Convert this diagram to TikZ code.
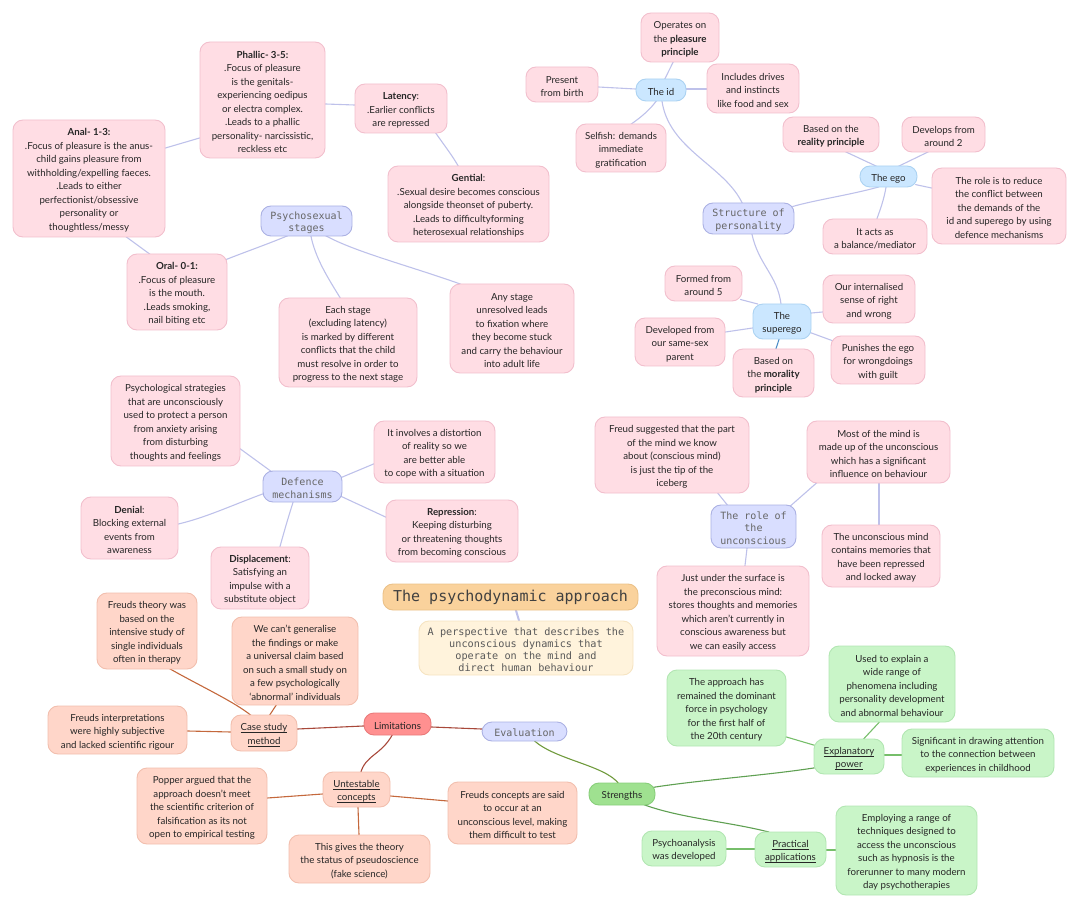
\documentclass[tikz,border=0pt]{standalone}
\usepackage{fontspec}
\setmainfont{Lato}
\newfontfamily\hdfont{DejaVu Sans Mono}
\definecolor{cPink}{HTML}{FFDDE4}\definecolor{cPinkD}{HTML}{F2BFCD}
\definecolor{cPeach}{HTML}{FFD6C9}\definecolor{cPeachD}{HTML}{F2BFAE}
\definecolor{cGreen}{HTML}{C9F5C8}\definecolor{cGreenD}{HTML}{B2E6B2}
\definecolor{cBlue}{HTML}{CBE7FF}\definecolor{cBlueD}{HTML}{ABD2F2}
\definecolor{cLavF}{HTML}{D9DEFF}\definecolor{cLavD}{HTML}{ABB1E3}
\definecolor{cTitle}{HTML}{FAD29C}\definecolor{cTitleD}{HTML}{EBC188}
\definecolor{cDesc}{HTML}{FFF3DC}\definecolor{cDescD}{HTML}{F6E4C2}
\definecolor{cLim}{HTML}{FF9090}\definecolor{cLimD}{HTML}{EA7A7A}
\definecolor{cStr}{HTML}{9FE190}\definecolor{cStrD}{HTML}{88CE7A}
\definecolor{cLink}{HTML}{BEC1EA}\definecolor{cRed}{HTML}{A8483A}
\definecolor{cOr}{HTML}{C4683C}\definecolor{cOlive}{HTML}{6F9A3C}
\definecolor{cGr}{HTML}{5FA052}\definecolor{cGrL}{HTML}{76BE6A}\definecolor{cBl}{HTML}{4F8FC8}
\pgfdeclarelayer{links}\pgfsetlayers{links,main}
\newcommand{\ulin}[1]{\setbox0\hbox{#1}\rlap{\rule[-1.6pt]{\wd0}{0.5pt}}\box0}
\newcommand{\topfix}{\rule{0pt}{11pt}}
\tikzset{
 bxbase/.style={rounded corners=10pt,line width=0.9pt,inner sep=0pt,align=center,text=black!85,font=\fontsize{9.7}{13.5}\selectfont},
 pinkbox/.style={bxbase,fill=cPink,draw=cPinkD},
 peachbox/.style={bxbase,fill=cPeach,draw=cPeachD},
 greenbox/.style={bxbase,fill=cGreen,draw=cGreenD},
 bluebox/.style={bxbase,fill=cBlue,draw=cBlueD},
 limbox/.style={bxbase,fill=cLim,draw=cLimD},
 strbox/.style={bxbase,fill=cStr,draw=cStrD},
 lavbox/.style={bxbase,fill=cLavF,draw=cLavD,text=black!60,font=\hdfont\fontsize{10}{12.2}\selectfont},
 titlebox/.style={bxbase,fill=cTitle,draw=cTitleD,text=black!75,font=\hdfont\fontsize{15}{18}\selectfont},
 descbox/.style={bxbase,fill=cDesc,draw=cDescD,text=black!65,font=\hdfont\fontsize{10.2}{11.9}\selectfont},
 lk/.style={line width=1.1pt,line cap=round,shorten >=-2pt,shorten <=-2pt},
 lav/.style={lk,draw=cLink},
 redlk/.style={lk,draw=cRed},
 orlk/.style={lk,draw=cOr},
 olivelk/.style={lk,draw=cOlive},
 grlk/.style={lk,draw=cGr},
 grllk/.style={lk,draw=cGrL},
 bllk/.style={lk,draw=cBl},
}
\newcommand{\bx}[7][pinkbox]{%
 \pgfmathsetmacro{\bxw}{#5-#3}\pgfmathsetmacro{\bxh}{#6-#4}%
 \pgfmathsetmacro{\bxx}{(#5+#3)/2}\pgfmathsetmacro{\bxy}{(#6+#4)/2}%
 \node[#1,minimum width=\bxw pt,minimum height=\bxh pt] (#2) at (\bxx,\bxy) {\topfix #7};}
\begin{document}
\begin{tikzpicture}[x=1pt,y=-1pt]
\useasboundingbox (0,0) rectangle (1080,909);
% title
\bx[titlebox]{title}{383}{584}{638}{610}{The psychodynamic approach}
\bx[descbox]{desc}{419}{621}{633}{675}{A perspective that describes the\\unconscious dynamics that\\operate on the mind and\\direct human behaviour}
% psychosexual
\bx{phallic}{200}{42}{325}{158}{\textbf{Phallic- 3-5:}\\.Focus of pleasure\\is the genitals-\\experiencing oedipus\\or electra complex.\\.Leads to a phallic\\personality- narcissistic,\\reckless etc}
\bx{latency}{355}{84}{447}{133}{\textbf{Latency}:\\.Earlier conflicts\\are repressed}
\bx{gential}{388}{166}{549}{242}{\textbf{Gential}:\\.Sexual desire becomes conscious\\alongside theonset of puberty.\\.Leads to difficultyforming\\heterosexual relationships}
\bx{anal}{13}{120}{165}{237}{\textbf{Anal- 1-3:}\\.Focus of pleasure is the anus-\\child gains pleasure from\\withholding/expelling faeces.\\.Leads to either\\perfectionist/obsessive\\personality or\\thoughtless/messy}
\bx[lavbox]{psy}{261}{206}{352}{236}{Psychosexual\\stages}
\bx{oral}{127}{254}{227}{330}{\textbf{Oral- 0-1:}\\.Focus of pleasure\\is the mouth.\\.Leads smoking,\\nail biting etc}
\bx{each}{279}{298}{417}{387}{Each stage\\(excluding latency)\\is marked by different\\conflicts that the child\\must resolve in order to\\progress to the next stage}
\bx{any}{450}{284}{574}{373}{Any stage\\unresolved leads\\to fixation where\\they become stuck\\and carry the behaviour\\into adult life}
% structure
\bx{operates}{641}{13}{719}{62}{Operates on\\the \textbf{pleasure}\\\textbf{principle}}
\bx{present}{526}{67}{598}{102}{Present\\from birth}
\bx[bluebox]{id}{636}{79}{686}{101}{The id}
\bx{includes}{707}{64}{799}{113}{Includes drives\\and instincts\\like food and sex}
\bx{selfish}{576}{124}{666}{172}{Selfish: demands\\immediate\\gratification}
\bx{reality}{783}{117}{879}{152}{Based on the\\\textbf{reality principle}}
\bx{develops}{902}{117}{985}{152}{Develops from\\around 2}
\bx[bluebox]{ego}{860}{166}{917}{187}{The ego}
\bx{role}{932}{168}{1066}{244}{The role is to reduce\\the conflict between\\the demands of the\\id and superego by using\\defence mechanisms}
\bx{acts}{823}{219}{927}{254}{It acts as\\a balance/mediator}
\bx[lavbox]{struct}{703}{203}{794}{234}{Structure of\\personality}
\bx{formed}{665}{266}{742}{301}{Formed from\\around 5}
\bx{developed}{635}{318}{725}{366}{Developed from\\our same-sex\\parent}
\bx[bluebox]{superego}{753}{304}{811}{339}{The\\superego}
\bx{internal}{823}{275}{915}{323}{Our internalised\\sense of right\\and wrong}
\bx{punishes}{831}{336}{925}{384}{Punishes the ego\\for wrongdoings\\with guilt}
\bx{morality}{733}{349}{814}{397}{Based on\\the \textbf{morality}\\\textbf{principle}}
% defence
\bx{strategies}{111}{376}{240}{466}{Psychological strategies\\that are unconsciously\\used to protect a person\\from anxiety arising\\from disturbing\\thoughts and feelings}
\bx{involves}{374}{421}{495}{483}{It involves a distortion\\of reality so we\\are better able\\to cope with a situation}
\bx[lavbox]{defence}{263}{471}{342}{502}{Defence\\mechanisms}
\bx{denial}{81}{497}{178}{559}{\textbf{Denial}:\\Blocking external\\events from\\awareness}
\bx{repression}{386}{500}{518}{562}{\textbf{Repression}:\\Keeping disturbing\\or threatening thoughts\\from becoming conscious}
\bx{displacement}{211}{547}{309}{609}{\textbf{Displacement}:\\Satisfying an\\impulse with a\\substitute object}
% unconscious
\bx{tip}{595}{417}{749}{493}{Freud suggested that the part\\of the mind we know\\about (conscious mind)\\is just the tip of the\\iceberg}
\bx{most}{807}{421}{950}{483}{Most of the mind is\\made up of the unconscious\\which has a significant\\influence on behaviour}
\bx[lavbox]{uncon}{711}{505}{796}{548}{The role of\\the\\unconscious}
\bx{memories}{822}{525}{940}{587}{The unconscious mind\\contains memories that\\have been repressed\\and locked away}
\bx{under}{657}{566}{809}{656}{Just under the surface is\\the preconscious mind:\\stores thoughts and memories\\which aren't currently in\\conscious awareness but\\we can easily access}
% limitations
\bx[peachbox]{theory}{97}{593}{197}{669}{Freuds theory was\\based on the\\intensive study of\\single individuals\\often in therapy}
\bx[peachbox]{general}{232}{617}{358}{705}{We can't generalise\\the findings or make\\a universal claim based\\on such a small study on\\a few psychologically\\`abnormal' individuals}
\bx[peachbox]{interp}{48}{706}{187}{754}{Freuds interpretations\\were highly subjective\\and lacked scientific rigour}
\bx[peachbox]{case}{231}{715}{297}{751}{\ulin{Case study}\\\ulin{method}}
\bx[limbox]{limits}{364}{713}{431}{735}{Limitations}
\bx[lavbox]{eval}{482}{722}{567}{741}{Evaluation}
\bx[peachbox]{popper}{137}{768}{267}{844}{Popper argued that the\\approach doesn't meet\\the scientific criterion of\\falsification as its not\\open to empirical testing}
\bx[peachbox]{untest}{323}{772}{390}{807}{\ulin{Untestable}\\\ulin{concepts}}
\bx[peachbox]{concepts}{448}{782}{577}{844}{Freuds concepts are said\\to occur at an\\unconscious level, making\\them difficult to test}
\bx[peachbox]{pseudo}{289}{835}{430}{883}{This gives the theory\\the status of pseudoscience\\(fake science)}
% strengths
\bx[greenbox]{dominant}{667}{670}{786}{746}{The approach has\\remained the dominant\\force in psychology\\for the first half of\\the 20th century}
\bx[greenbox]{explain}{829}{646}{955}{722}{Used to explain a\\wide range of\\phenomena including\\personality development\\and abnormal behaviour}
\bx[greenbox]{power}{814}{739}{884}{774}{\ulin{Explanatory}\\\ulin{power}}
\bx[greenbox]{signif}{902}{729}{1054}{777}{Significant in drawing attention\\to the connection between\\experiences in childhood}
\bx[strbox]{strengths}{589}{783}{655}{805}{Strengths}
\bx[greenbox]{analysis}{642}{831}{726}{866}{Psychoanalysis\\was developed}
\bx[greenbox]{practical}{755}{832}{826}{867}{\ulin{Practical}\\\ulin{applications}}
\bx[greenbox]{employ}{836}{806}{977}{895}{Employing a range of\\techniques designed to\\access the unconscious\\such as hypnosis is the\\forerunner to many modern\\day psychotherapies}
\begin{pgfonlayer}{links}
\draw[lk,draw=cLink,line width=2pt] (516,0 |- title.south) -- (519,0 |- desc.north);
% psychosexual
\draw[lav] (anal.east |- 0,148) -- (phallic.west |- 0,138);
\draw[lav] (phallic.east |- 0,104) -- (latency.west |- 0,105);
\draw[lav] (436,0 |- latency.south) .. controls (444,145) and (452,155) .. (458,0 |- gential.north);
\draw[lav] (127,0 |- anal.south) -- (149,0 |- oral.north);
\draw[lav] (286,0 |- psy.south) .. controls (268,244) and (245,252) .. (oral.east |- 0,259);
\draw[lav] (311,0 |- psy.south) .. controls (315,258) and (328,278) .. (340,0 |- each.north);
\draw[lav] (327,0 |- psy.south) .. controls (355,252) and (410,266) .. (459,0 |- any.north);
% defence
\draw[lav] (strategies.east |- 0,449) -- (270,0 |- defence.north);
\draw[lav] (defence.east |- 0,477) -- (involves.west |- 0,464);
\draw[lav] (defence.west |- 0,494) .. controls (230,506) and (205,518) .. (denial.east |- 0,524);
\draw[lav] (defence.east |- 0,497) -- (repression.west |- 0,517);
\draw[lav] (293,0 |- defence.south) .. controls (288,518) and (284,532) .. (280,0 |- displacement.north);
% unconscious
\draw[lav] (718,0 |- tip.south) -- (727,0 |- uncon.north);
\draw[lav] (816,0 |- most.south) -- (792,0 |- uncon.north);
\draw[lav] (879,0 |- most.south) -- (879,0 |- memories.north);
\draw[lav] (747,0 |- uncon.south) -- (745,0 |- under.north);
% structure
\draw[lav] (662,0 |- id.south) .. controls (668,150) and (725,165) .. (742,0 |- struct.north);
\draw[lav] (877,0 |- ego.south) .. controls (850,195) and (815,200) .. (struct.east |- 0,206);
\draw[lav] (752,0 |- struct.south) .. controls (758,265) and (778,275) .. (781,0 |- superego.north);
\draw[lav] (673,0 |- operates.south) -- (665,0 |- id.north);
\draw[lav] (present.east |- 0,87) -- (id.west |- 0,89);
\draw[lav] (id.east |- 0,89) -- (includes.west |- 0,89);
\draw[lav] (656,0 |- id.south) .. controls (650,110) and (640,118) .. (632,0 |- selfish.north);
\draw[lav] (847,0 |- reality.south) -- (875,0 |- ego.north);
\draw[lav] (927,0 |- develops.south) -- (900,0 |- ego.north);
\draw[lav] (ego.east |- 0,185) -- (role.west |- 0,188);
\draw[lav] (886,0 |- ego.south) .. controls (884,200) and (880,210) .. (877,0 |- acts.north);
\draw[lav] (formed.east |- 0,300) -- (756,0 |- superego.north);
\draw[lav] (developed.east |- 0,332) -- (superego.west |- 0,328);
\draw[lav] (superego.east |- 0,313) -- (internal.west |- 0,312);
\draw[lav] (superego.east |- 0,333) -- (punishes.west |- 0,340);
\draw[bllk] (779,0 |- superego.south) -- (776,0 |- morality.north);
% limitations
\draw[orlk] (171,0 |- theory.south) .. controls (200,686) and (235,702) .. (250,0 |- case.north);
\draw[orlk] (276,0 |- general.south) -- (270,0 |- case.north);
\draw[orlk] (interp.east |- 0,731) -- (case.west |- 0,732);
\draw[redlk] (case.east |- 0,729) -- (limits.west |- 0,726);
\draw[redlk] (limits.east |- 0,727) -- (eval.west |- 0,729);
\draw[redlk] (392,0 |- limits.south) .. controls (382,755) and (365,755) .. (361,0 |- untest.north);
\draw[orlk] (popper.east |- 0,798) -- (untest.west |- 0,794);
\draw[orlk] (untest.east |- 0,796) -- (concepts.west |- 0,801);
\draw[orlk] (358,0 |- untest.south) -- (359,0 |- pseudo.north);
% strengths
\draw[olivelk] (535,0 |- eval.south) .. controls (555,760) and (605,765) .. (618,0 |- strengths.north);
\draw[grlk] (strengths.east |- 0,787) .. controls (700,780) and (770,775) .. (power.west |- 0,768);
\draw[grlk] (646,0 |- strengths.south) .. controls (680,818) and (730,822) .. (767,0 |- practical.north);
\draw[grllk] (dominant.east |- 0,737) -- (power.west |- 0,745);
\draw[grllk] (879,0 |- explain.south) -- (864,0 |- power.north);
\draw[grllk] (power.east |- 0,755) -- (signif.west |- 0,755);
\draw[grllk] (analysis.east |- 0,849) -- (practical.west |- 0,849);
\draw[grllk] (practical.east |- 0,850) -- (employ.west |- 0,850);
\end{pgfonlayer}
\end{tikzpicture}
\end{document}
